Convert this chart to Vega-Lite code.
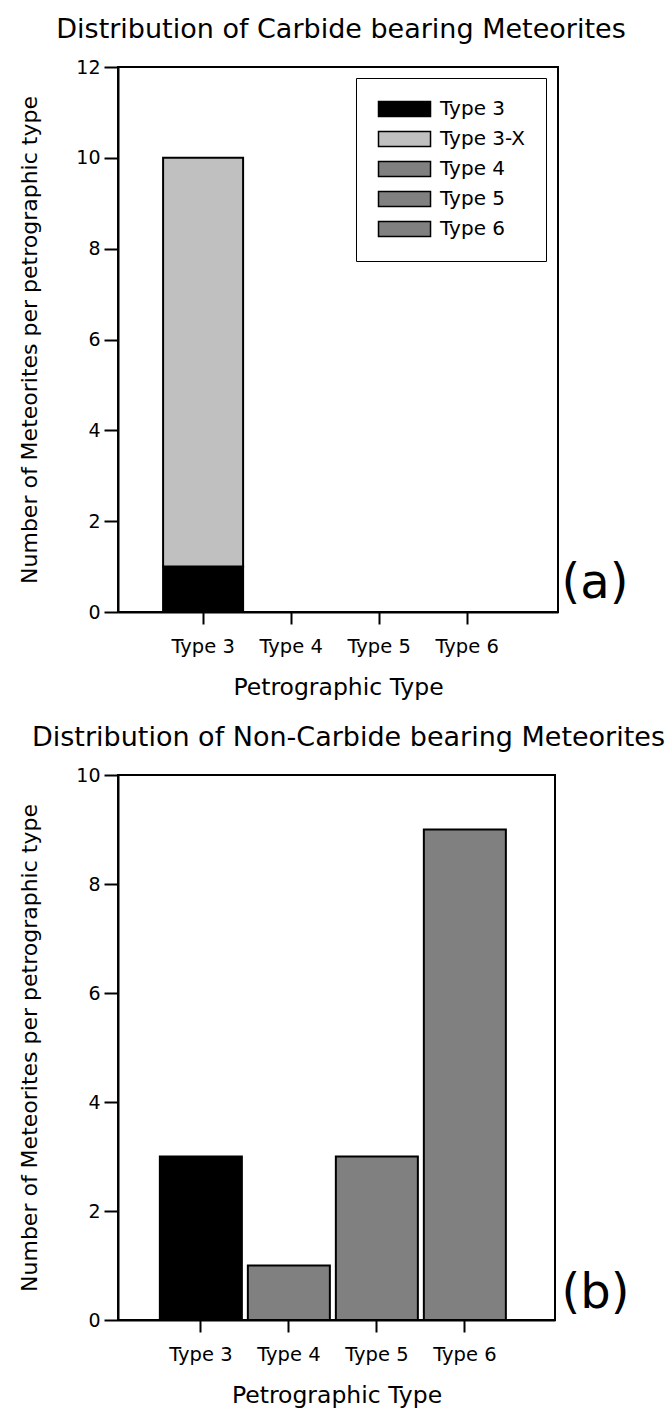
{
  "$schema": "https://vega.github.io/schema/vega-lite/v6.json",
  "background": "white",
  "padding": {"left": 17, "top": 15, "right": 0, "bottom": 0},
  "spacing": 23,
  "config": {
    "font": "DejaVu Sans",
    "view": {"stroke": "black", "strokeWidth": 2},
    "axis": {
      "domainColor": "black", "domainWidth": 2, "tickColor": "black", "tickWidth": 2,
      "labelColor": "black", "titleColor": "black", "titleFontWeight": "normal",
      "grid": false, "labelFont": "DejaVu Sans", "titleFont": "DejaVu Sans"
    },
    "title": {"fontWeight": "normal", "color": "black", "fontSize": 27, "font": "DejaVu Sans", "offset": 14}
  },
  "vconcat": [
    {
      "title": {"text": "Distribution of Carbide bearing Meteorites", "dx": 3},
      "width": 440,
      "height": 545,
      "data": {"values": [
        {"ptype": "Type 3", "series": "Type 3", "count": 1},
        {"ptype": "Type 3", "series": "Type 3-X", "count": 9},
        {"ptype": "Type 4", "series": "Type 4", "count": 0},
        {"ptype": "Type 5", "series": "Type 5", "count": 0},
        {"ptype": "Type 6", "series": "Type 6", "count": 0}
      ]},
      "resolve": {"scale": {"y": "independent"}},
      "layer": [
        {
          "mark": {"type": "bar", "stroke": "black", "strokeWidth": 2},
          "encoding": {
            "x": {
              "field": "ptype", "type": "nominal",
              "scale": {"domain": ["Type 3", "Type 4", "Type 5", "Type 6"], "paddingInner": 0.091, "paddingOuter": 0.545, "align": 0.47},
              "axis": {"title": "Petrographic Type", "labelAngle": 0, "labelFontSize": 19.5, "titleFontSize": 23.5, "tickSize": 12, "labelPadding": 13, "titlePadding": 20}
            },
            "y": {
              "field": "count", "type": "quantitative", "stack": "zero",
              "scale": {"domain": [0, 12]},
              "axis": {"title": "Number of Meteorites per petrographic type", "values": [0, 2, 4, 6, 8, 10, 12], "labelFontSize": 19, "titleFontSize": 22, "tickSize": 14, "labelPadding": 4, "titlePadding": 34}
            },
            "color": {
              "field": "series", "type": "nominal",
              "scale": {"domain": ["Type 3", "Type 3-X", "Type 4", "Type 5", "Type 6"], "range": ["#000000", "#c0c0c0", "#808080", "#808080", "#808080"]},
              "legend": {
                "title": null, "orient": "none", "legendX": 238, "legendY": 11,
                "strokeColor": "black", "fillColor": "white", "padding": 21,
                "labelFontSize": 20, "labelColor": "black", "labelOffset": 43, "rowPadding": 8,
                "symbolType": "M-1,-0.88L5.12,-0.88L5.12,0.88L-1,0.88Z", "symbolSize": 289,
                "symbolStrokeColor": "black", "symbolStrokeWidth": 1.5, "symbolOpacity": 1
              }
            },
            "order": {"field": "series", "sort": "ascending"}
          }
        },
        {
          "mark": {"type": "rule", "opacity": 0},
          "encoding": {
            "y": {
              "datum": 0, "type": "quantitative",
              "scale": {"domain": [0, 12]},
              "axis": {"orient": "right", "title": "(a)", "labels": false, "ticks": false, "domain": false, "titleAngle": 0, "titleFontSize": 48, "titleAlign": "left", "titleBaseline": "alphabetic", "titleX": 3, "titleY": 530}
            }
          }
        }
      ]
    },
    {
      "title": {"text": "Distribution of Non-Carbide bearing Meteorites", "dx": 12},
      "width": 437,
      "height": 545,
      "data": {"values": [
        {"ptype": "Type 3", "count": 3},
        {"ptype": "Type 4", "count": 1},
        {"ptype": "Type 5", "count": 3},
        {"ptype": "Type 6", "count": 9}
      ]},
      "resolve": {"scale": {"y": "independent"}},
      "layer": [
        {
          "mark": {"type": "bar", "stroke": "black", "strokeWidth": 2},
          "encoding": {
            "x": {
              "field": "ptype", "type": "nominal",
              "scale": {"domain": ["Type 3", "Type 4", "Type 5", "Type 6"], "paddingInner": 0.068, "paddingOuter": 0.517, "align": 0.46},
              "axis": {"title": "Petrographic Type", "labelAngle": 0, "labelFontSize": 19.5, "titleFontSize": 23.5, "tickSize": 12, "labelPadding": 13, "titlePadding": 20}
            },
            "y": {
              "field": "count", "type": "quantitative",
              "scale": {"domain": [0, 10]},
              "axis": {"title": "Number of Meteorites per petrographic type", "values": [0, 2, 4, 6, 8, 10], "labelFontSize": 19, "titleFontSize": 22, "tickSize": 14, "labelPadding": 4, "titlePadding": 34}
            },
            "color": {
              "field": "ptype", "type": "nominal",
              "scale": {"domain": ["Type 3", "Type 4", "Type 5", "Type 6"], "range": ["#000000", "#808080", "#808080", "#808080"]},
              "legend": null
            }
          }
        },
        {
          "mark": {"type": "rule", "opacity": 0},
          "encoding": {
            "y": {
              "datum": 0, "type": "quantitative",
              "scale": {"domain": [0, 10]},
              "axis": {"orient": "right", "title": "(b)", "labels": false, "ticks": false, "domain": false, "titleAngle": 0, "titleFontSize": 48, "titleAlign": "left", "titleBaseline": "alphabetic", "titleX": 6, "titleY": 532}
            }
          }
        }
      ]
    }
  ]
}
